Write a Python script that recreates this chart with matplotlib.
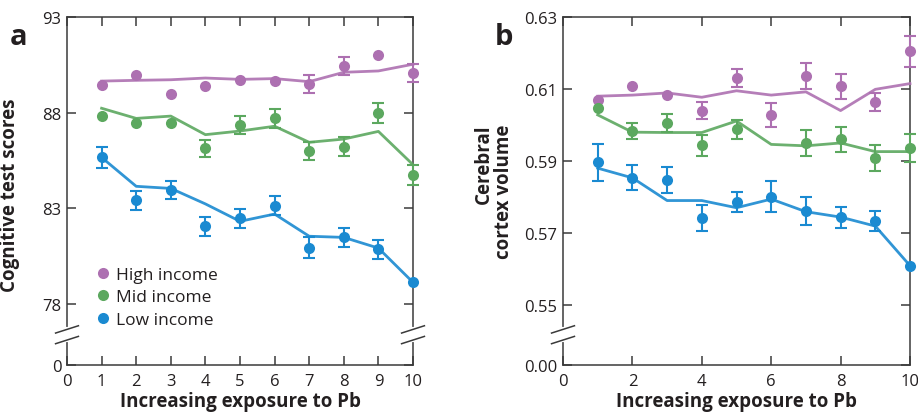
import numpy as np
import matplotlib.pyplot as plt
from matplotlib.lines import Line2D

plt.rcParams['font.family'] = ['Open Sans', 'DejaVu Sans']

exposure = [1, 2, 3, 4, 5, 6, 7, 8, 9, 10]

# panel a: cognitive test scores
a_high_pts = [89.45, 89.98, 89.0, 89.38, 89.72, 89.67, 89.48, 90.46, 91.03, 90.06]
a_high_err = [0, 0, 0, 0, 0, 0, 0.47, 0.47, 0, 0.47]
a_high_fit = [89.65, 89.69, 89.72, 89.81, 89.74, 89.78, 89.62, 90.11, 90.18, 90.53]
a_mid_pts = [87.84, 87.48, 87.46, 86.13, 87.35, 87.7, 85.98, 86.22, 88.0, 84.76]
a_mid_err = [0, 0, 0, 0.46, 0.48, 0.49, 0.47, 0.5, 0.52, 0.52]
a_mid_fit = [88.23, 87.7, 87.82, 86.85, 87.04, 87.29, 86.45, 86.62, 87.02, 85.28]
a_low_pts = [85.66, 83.42, 83.96, 82.07, 82.49, 83.14, 80.94, 81.48, 80.86, 79.13]
a_low_err = [0.54, 0.5, 0.49, 0.5, 0.5, 0.5, 0.54, 0.5, 0.5, 0]
a_low_fit = [85.66, 84.15, 84.04, 83.23, 82.32, 82.7, 81.54, 81.48, 80.92, 79.13]

# panel b: cerebral cortex volume
b_high_pts = [0.6069, 0.6108, 0.6084, 0.6040, 0.6131, 0.6027, 0.6136, 0.6108, 0.6064, 0.6205]
b_high_err = [0, 0, 0, 0.00245, 0.00245, 0.0034, 0.0035, 0.0035, 0.0025, 0.0043]
b_high_fit = [0.6080, 0.6083, 0.6089, 0.6077, 0.6095, 0.6083, 0.6092, 0.6040, 0.6099, 0.6115]
b_mid_pts = [0.6048, 0.5983, 0.6006, 0.5943, 0.5988, np.nan, 0.5950, 0.5960, 0.5908, 0.5937]
b_mid_err = [0, 0.0023, 0.0025, 0.003, 0.0026, 0, 0.0035, 0.0034, 0.0037, 0.0039]
b_mid_fit = [0.6028, 0.5980, 0.5979, 0.5979, 0.6011, 0.5946, 0.5942, 0.5950, 0.5926, 0.5926]
b_low_pts = [0.5896, 0.5853, 0.5847, 0.5742, 0.5787, 0.5801, 0.5761, 0.5743, 0.5734, 0.5609]
b_low_err = [0.0051, 0.0035, 0.0037, 0.0037, 0.0028, 0.0043, 0.0039, 0.0028, 0.0028, 0]
b_low_fit = [0.5880, 0.5853, 0.5790, 0.5790, 0.5770, 0.5794, 0.5759, 0.5744, 0.5719, 0.5609]

group_names = ['High income', 'Mid income', 'Low income']
colors = ['#ad70b1', '#5ca85f', '#1a8ad1']

a_yticks = [0, 78, 83, 88, 93]
a_ylabels = ['0', '78', '83', '88', '93']
b_yticks = [0, 0.55, 0.57, 0.59, 0.61, 0.63]
b_ylabels = ['0.00', '0.55', '0.57', '0.59', '0.61', '0.63']

spine_col = '#3a3a3a'
text_col = '#231f20'


def broken_scale(lo, k):
    # squeeze everything below lo into a small strip
    def fwd(y):
        y = np.asarray(y, dtype=float)
        return np.where(y >= lo, y, lo - (lo - y) * k)

    def inv(y):
        y = np.asarray(y, dtype=float)
        return np.where(y >= lo, y, lo - (lo - y) / k)
    return fwd, inv


def draw_break(ax, xpos, yc=0.087, half=0.0153):
    for x in xpos:
        ax.plot([x, x], [yc - half, yc + half], color='white', lw=3,
                transform=ax.transAxes, clip_on=False, zorder=5)
        for off in (-half, half):
            ax.plot([x - 0.033, x + 0.033], [yc + off - 0.0105, yc + off + 0.0105],
                    color=spine_col, lw=1.1, transform=ax.transAxes,
                    clip_on=False, zorder=6)


def draw_groups(ax, pts, errs, fits):
    for p, e, f, c in zip(pts, errs, fits, colors):
        ax.plot(exposure, f, color=c, lw=2.0, alpha=0.9, zorder=3, clip_on=False)
        # only points that carry a visible error bar
        idx = [i for i in range(len(exposure)) if e[i] > 0]
        ax.errorbar([exposure[i] for i in idx], [p[i] for i in idx],
                    yerr=[e[i] for i in idx], fmt='none', ecolor=c,
                    elinewidth=1.5, capsize=4.5, capthick=1.5, zorder=4,
                    clip_on=False)
        ax.plot(exposure, p, 'o', color=c, ms=8, mew=0, zorder=4.5, clip_on=False)


def style_axes(ax):
    for s in ax.spines.values():
        s.set_color(spine_col)
        s.set_linewidth(1.1)
    ax.tick_params(direction='in', top=True, right=True, length=6.5, width=1.1,
                   color=spine_col, labelsize=12, labelcolor=text_col)
    ax.tick_params(axis='y', pad=4)
    ax.tick_params(axis='x', pad=6)
    ax.set_xlim(0, 10)
    ax.set_xlabel('Increasing exposure to Pb', fontsize=13.5, fontweight='bold',
                  color=text_col, labelpad=1)


fig = plt.figure(figsize=(9.18, 4.14), dpi=100)
ax1 = fig.add_axes([67 / 918, 48 / 414, 346 / 918, 348 / 414])
ax2 = fig.add_axes([563 / 918, 48 / 414, 347 / 918, 348 / 414])

# panel a
ax1.set_yscale('function', functions=broken_scale(76, 0.01566))
draw_groups(ax1, [a_high_pts, a_mid_pts, a_low_pts],
            [a_high_err, a_mid_err, a_low_err],
            [a_high_fit, a_mid_fit, a_low_fit])
ax1.set_ylim(0, 93)
ax1.set_yticks(a_yticks)
ax1.set_yticklabels(a_ylabels)
ax1.set_xticks(range(0, 11))
style_axes(ax1)
ax1.set_ylabel('Cognitive test scores', fontsize=13.5, fontweight='bold', color=text_col)
ax1.yaxis.set_label_coords(-0.135, 0.49)
draw_break(ax1, [0, 1])

handles = [Line2D([], [], ls='none', marker='o', ms=8, mew=0, color=c) for c in colors]
ax1.legend(handles, group_names, loc='upper left', bbox_to_anchor=(0.05, 0.308),
           frameon=False, fontsize=12.5, handletextpad=0.1, labelspacing=0.38,
           borderpad=0, handlelength=1.2, labelcolor=text_col)

# panel b
ax2.set_yscale('function', functions=broken_scale(0.54, 0.0124))
draw_groups(ax2, [b_high_pts, b_mid_pts, b_low_pts],
            [b_high_err, b_mid_err, b_low_err],
            [b_high_fit, b_mid_fit, b_low_fit])
ax2.set_ylim(0, 0.63)
ax2.set_yticks(b_yticks)
ax2.set_yticklabels(b_ylabels)
ax2.set_xticks(range(0, 11, 2))
style_axes(ax2)
ax2.set_ylabel('Cerebral\ncortex volume', fontsize=13.5, fontweight='bold',
               color=text_col, multialignment='right', linespacing=1.0)
ax2.yaxis.set_label_coords(-0.142, 0.5)
draw_break(ax2, [0])

fig.text(10 / 918, 1 - 45 / 414, 'a', fontsize=21, fontweight='bold', color=text_col)
fig.text(495 / 918, 1 - 45 / 414, 'b', fontsize=21, fontweight='bold', color=text_col)

fig.savefig('out.png', dpi=100)
